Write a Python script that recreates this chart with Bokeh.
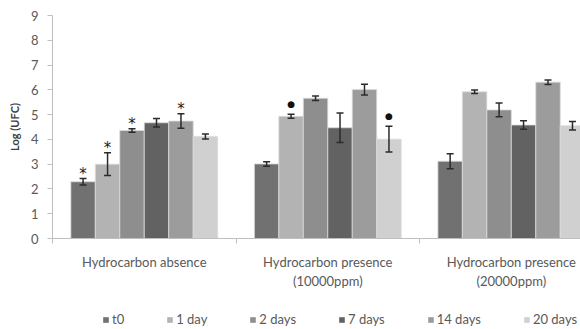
from bokeh.plotting import figure
from bokeh.layouts import column
from bokeh.models import (ColumnDataSource, Range1d, FixedTicker, Whisker, TeeHead,
                          Legend, LegendItem)
from bokeh.core.properties import value
from bokeh.embed import file_html
from bokeh.resources import INLINE
import numpy as np

groups = ["Hydrocarbon absence", "Hydrocarbon presence\n(10000ppm)", "Hydrocarbon presence\n(20000ppm)"]
series = ["t0", "1 day", "2 days", "7 days", "14 days", "20 days"]

t0 = [2.29, 3.01, 3.12]
d1 = [3.00, 4.93, 5.92]
d2 = [4.36, 5.66, 5.19]
d7 = [4.67, 4.47, 4.58]
d14 = [4.74, 6.01, 6.31]
d20 = [4.12, 4.01, 4.55]

t0_err = [0.13, 0.09, 0.30]
d1_err = [0.46, 0.08, 0.07]
d2_err = [0.07, 0.09, 0.28]
d7_err = [0.17, 0.60, 0.17]
d14_err = [0.29, 0.22, 0.09]
d20_err = [0.10, 0.52, 0.17]

# significance marks per series (one per group)
t0_mark = ["*", "", ""]
d1_mark = ["*", "dot", ""]
d2_mark = ["*", "", ""]
d7_mark = ["", "", ""]
d14_mark = ["*", "", ""]
d20_mark = ["", "dot", ""]

yticks = [0, 1, 2, 3, 4, 5, 6, 7, 8, 9]

colors = ["#717171", "#b3b3b3", "#8e8e8e", "#626262", "#9c9c9c", "#d0d0d0"]
vals = [t0, d1, d2, d7, d14, d20]
errs = [t0_err, d1_err, d2_err, d7_err, d14_err, d20_err]
marks = [t0_mark, d1_mark, d2_mark, d7_mark, d14_mark, d20_mark]

FONT = "Lato"
GRAY = "#595959"
AX = "#bfbfbf"

p = figure(width=580, height=305, output_backend="svg", toolbar_location=None,
           x_range=Range1d(0, 2.877), y_range=Range1d(0, 9),
           min_border_left=52, min_border_top=15, min_border_right=0, min_border_bottom=67)
p.outline_line_color = None
p.xgrid.visible = False
p.ygrid.visible = False
p.background_fill_color = "white"

n = len(series)
bw = 0.8 / n
gidx = np.arange(len(groups)) + 0.5
for j, (name, v, e, m, c) in enumerate(zip(series, vals, errs, marks, colors)):
    x = gidx + (j - (n - 1) / 2) * bw
    v = np.array(v)
    e = np.array(e)
    src = ColumnDataSource(dict(x=x, top=v, upper=v + e, lower=v - e))
    p.vbar(x="x", top="top", width=bw, source=src, fill_color=c,
           line_color="#dcdcdc", line_width=0.8)
    w = Whisker(source=src, base="x", upper="upper", lower="lower",
                line_color="#2b2b2b", line_width=1.5,
                upper_head=TeeHead(size=7, line_color="#2b2b2b", line_width=1.5),
                lower_head=TeeHead(size=7, line_color="#2b2b2b", line_width=1.5))
    w.level = "annotation"
    p.add_layout(w)
    sx = [xx for xx, mm in zip(x, m) if mm == "*"]
    sy = [yy for yy, mm in zip(v + e, m) if mm == "*"]
    if sx:
        p.text(x=sx, y=sy, text=["*"] * len(sx), text_align="center", text_baseline="middle",
               y_offset=-5, text_font=value("DejaVu Sans"), text_font_size="15px",
               text_color="#1a1a1a")
    dx = [xx for xx, mm in zip(x, m) if mm == "dot"]
    dy = [yy for yy, mm in zip(v + e, m) if mm == "dot"]
    if dx:
        p.text(x=dx, y=dy, text=["\u25cf"] * len(dx), text_align="center", text_baseline="middle",
               y_offset=-10, text_font=value("DejaVu Sans"), text_font_size="9px", text_color="#111111")

# y axis
p.yaxis.ticker = FixedTicker(ticks=yticks)
p.yaxis.axis_line_color = AX
p.yaxis.major_tick_line_color = AX
p.yaxis.major_tick_out = 5
p.yaxis.major_tick_in = 0
p.yaxis.minor_tick_line_color = None
p.yaxis.major_label_text_font = FONT
p.yaxis.major_label_text_font_size = "13px"
p.yaxis.major_label_text_color = GRAY
p.yaxis.major_label_standoff = 9
p.yaxis.axis_label = "Log (UFC)"
p.yaxis.axis_label_text_font = FONT
p.yaxis.axis_label_text_font_size = "11px"
p.yaxis.axis_label_text_font_style = "bold"
p.yaxis.axis_label_text_color = "#404040"
p.yaxis.axis_label_standoff = 7

# x axis
p.xaxis.ticker = FixedTicker(ticks=list(gidx), minor_ticks=list(range(len(groups) + 1)))
p.xaxis.major_label_overrides = {float(g): lab for g, lab in zip(gidx, groups)}
p.xaxis.axis_line_color = AX
p.xaxis.major_tick_line_color = None
p.xaxis.major_tick_out = 0
p.xaxis.major_tick_in = 0
p.xaxis.minor_tick_line_color = AX
p.xaxis.minor_tick_out = 5
p.xaxis.minor_tick_in = 0
p.xaxis.major_label_text_font = FONT
p.xaxis.major_label_text_font_size = "13px"
p.xaxis.major_label_text_color = GRAY
p.xaxis.major_label_standoff = 10

# legend strip (separate figure below the chart); its swatch renderers sit outside the view
lg = figure(width=580, height=24, output_backend="svg", toolbar_location=None,
            x_range=Range1d(0, 1), y_range=Range1d(0, 1),
            min_border=0, min_border_left=0, min_border_right=0,
            min_border_top=0, min_border_bottom=0)
lg.axis.visible = False
lg.grid.visible = False
lg.outline_line_color = None
items = []
for name, c in zip(series, colors):
    r = lg.quad(left=[-5], right=[-4], bottom=[-5], top=[-4], fill_color=c, line_color=None)
    items.append(LegendItem(label=name, renderers=[r]))
legend = Legend(items=items, orientation="horizontal", location=(50, 2),
                glyph_width=7, glyph_height=7, label_standoff=3, spacing=42,
                padding=0, margin=0, border_line_color=None, background_fill_alpha=0,
                label_text_font=FONT, label_text_font_size="13px", label_text_color=GRAY,
                label_height=14, label_width=10)
lg.add_layout(legend, "center")

layout = column(p, lg, spacing=0)
open("out.html", "w").write(file_html(layout, INLINE))
